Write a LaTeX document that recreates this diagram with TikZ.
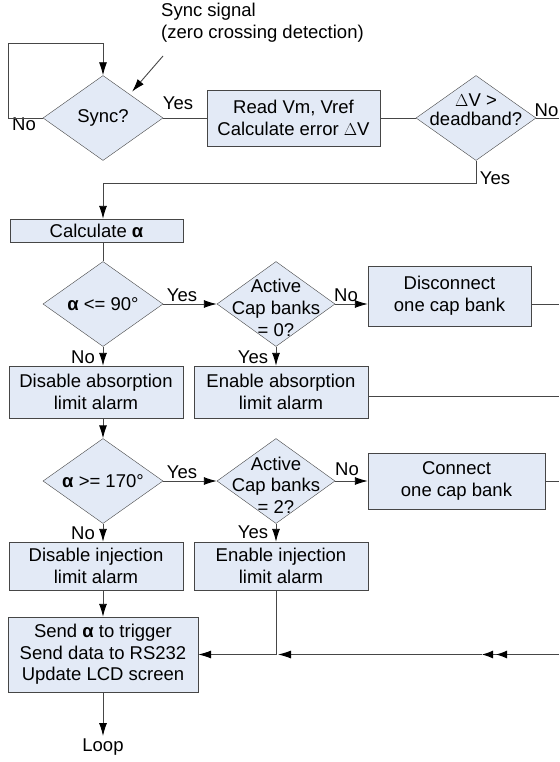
\documentclass[tikz,border=0pt]{standalone}
\usepackage{fontspec}
\setmainfont{Liberation Sans}
\usetikzlibrary{shapes.geometric,arrows.meta,calc}

\definecolor{boxfill}{RGB}{227,234,246}
\definecolor{edge}{RGB}{70,70,70}
\newcommand{\chartfont}{\fontsize{18.5}{21.7}\selectfont}

\tikzset{
  process/.style={draw=edge,fill=boxfill,align=center,inner sep=0pt,font=\chartfont},
  decision/.style={diamond,draw=edge,fill=boxfill,inner sep=0pt,minimum width=120pt,minimum height=85pt},
  lbl/.style={inner sep=0pt,font=\chartfont},
  flow/.style={draw=edge,line width=0.9pt},
  arr/.style={flow,-{Latex[length=13pt,width=8pt,color=black]}}
}

\begin{document}
\begin{tikzpicture}[x=1pt,y=-1pt]
    \useasboundingbox (0,0) rectangle (559,762);
    % top row
    \node[decision] (sync) at (103,118) {};
    \node[lbl] (syncT) at (sync) {Sync?};
    \node[process,minimum width=173pt,minimum height=56pt] (readv) at (293.5,118) {Read Vm, Vref\\Calculate error $\Delta$V};
    \node[decision] (dvchk) at (476,118) {};
    \node[lbl,align=center,font=\fontsize{18.5}{19}\selectfont] (dvchkT) at ($(dvchk)+(0,-8)$) {$\Delta$V >\\deadband?};
    \node[lbl,align=left,anchor=north west] (sigtxt) at (161,3) {Sync signal\\(zero crossing detection)};
    \coordinate (sigtail) at (163,56);
    \coordinate (loopA) at (8,43);
    \coordinate (yesturn) at (476,183);
    % absorption part
    \node[process,minimum width=173pt,minimum height=23pt] (calcA) at (96.5,230.5) {Calculate \textbf{α}};
    \node[decision] (a90) at (103,304) {};
    \node[lbl] (a90T) at (a90) {\textbf{α} <= 90°};
    \node[decision,minimum width=118pt] (cap0) at (276,304) {};
    \node[lbl,align=center] (cap0T) at ($(cap0)+(0,4)$) {Active\\Cap banks\\= 0?};
    \node[process,minimum width=163pt,minimum height=60pt] (disconn) at (449.5,296) {Disconnect\\one cap bank};
    \node[process,minimum width=174pt,minimum height=52pt] (disAbs) at (96,392) {Disable absorption\\limit alarm};
    \node[process,minimum width=174pt,minimum height=52pt] (enAbs) at (281,392) {Enable absorption\\limit alarm};
    % injection part
    \node[decision] (a170) at (103,481) {};
    \node[lbl] (a170T) at (a170) {\textbf{α} >= 170°};
    \node[decision,minimum width=118pt] (cap2) at (276,481) {};
    \node[lbl,align=center] (cap2T) at ($(cap2)+(0,4)$) {Active\\Cap banks\\= 2?};
    \node[process,minimum width=177pt,minimum height=56pt] (conn) at (456.5,481) {Connect\\one cap bank};
    \node[process,minimum width=174pt,minimum height=48pt] (disInj) at (96,566) {Disable injection\\limit alarm};
    \node[process,minimum width=174pt,minimum height=48pt] (enInj) at (281,566) {Enable injection\\limit alarm};
    % output
    \node[process,minimum width=190pt,minimum height=75pt] (send) at (103,654.5) {Send \textbf{α} to trigger\\Send data to RS232\\Update LCD screen};
    \node[lbl,anchor=north,inner sep=3pt] (loop) at (103,736) {Loop};
    \coordinate (edgeR1) at (559,304);
    \coordinate (edgeR2) at (559,396);
    \coordinate (edgeR3) at (559,481);
    \coordinate (edgeR4) at (559,654.5);
    \coordinate (dbl) at (482,654.5);
    \coordinate (join) at (cap2.south |- send.east);

    % yes / no
    \node[lbl] (noSync) at (24,124) {No};
    \node[lbl] (yesSync) at (178,103) {Yes};
    \node[lbl,anchor=east] (noDv) at (558.5,110) {No};
    \node[lbl] (yesDv) at (495,178) {Yes};
    \node[lbl] (yes90) at (182,295) {Yes};
    \node[lbl] (no90) at (83,357) {No};
    \node[lbl] (noCap0) at (346,295) {No};
    \node[lbl] (yesCap0) at (253,357) {Yes};
    \node[lbl] (yes170) at (182,472) {Yes};
    \node[lbl] (no170) at (83,533) {No};
    \node[lbl] (noCap2) at (347,469) {No};
    \node[lbl] (yesCap2) at (253,532) {Yes};

    % connectors
    \draw[arr] (sync.west) -| (loopA) -| (sync.north);
    \draw[arr] (sigtail) -- ($(sync.north east)+(-1,-5)$);
    \draw[flow] (sync.east) -- (readv.west);
    \draw[flow] (readv.east) -- (dvchk.west);
    \draw[flow] (dvchk.east) -- (dvchk.east -| edgeR1);
    \draw[arr] (dvchk.south) -- (yesturn) -| (calcA.north -| sync.south);
    \draw[flow] (calcA.south -| a90.north) -- (a90.north);
    \draw[arr] (a90.east) -- (cap0.west);
    \draw[arr] (a90.south) -- (disAbs.north -| a90.south);
    \draw[arr] (cap0.east) -- (disconn.west |- cap0.east);
    \draw[arr] (cap0.south) -- (enAbs.north -| cap0.south);
    \draw[flow] (disconn.east |- cap0.east) -- (edgeR1);
    \draw[flow] (enAbs.east |- edgeR2) -- (edgeR2);
    \draw[arr] (disAbs.south -| a170.north) -- (a170.north);
    \draw[arr] (a170.east) -- (cap2.west);
    \draw[arr] (a170.south) -- (disInj.north -| a170.south);
    \draw[arr] (cap2.east) -- (conn.west);
    \draw[arr] (cap2.south) -- (enInj.north -| cap2.south);
    \draw[flow] (conn.east) -- (edgeR3);
    \draw[arr] (disInj.south -| send.north) -- (send.north);
    \draw[flow] (enInj.south -| cap2.south) -- (join);
    \draw[flow,-{Latex[length=11pt,width=8pt,sep=3pt,color=black]Latex[length=11pt,width=8pt,color=black]}] (edgeR4) -- (dbl);
    \draw[arr] (dbl) -- ([xshift=2pt]join);
    \draw[arr] (join) -- (send.east);
    \draw[arr] (send.south) -- (loop.north);
\end{tikzpicture}
\end{document}
